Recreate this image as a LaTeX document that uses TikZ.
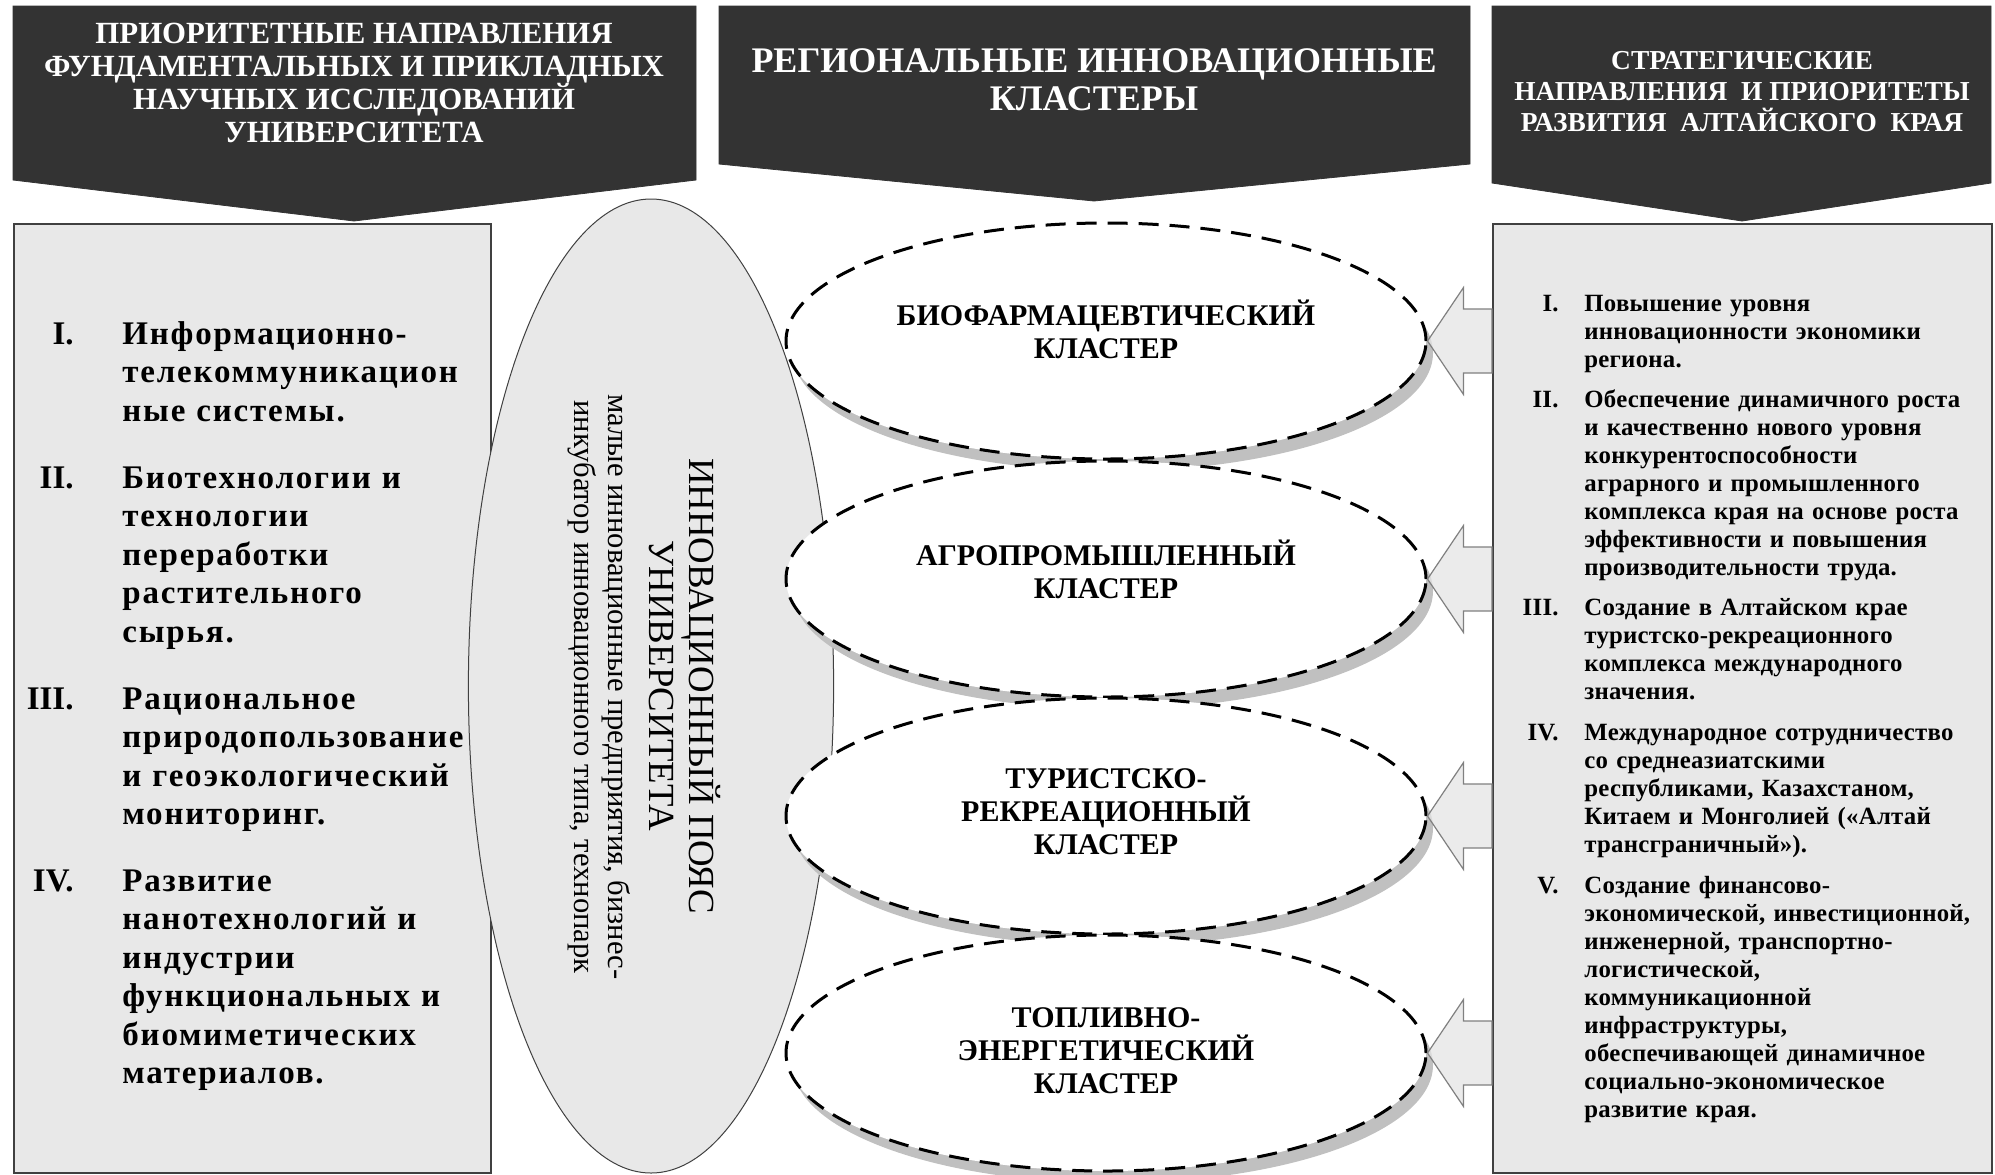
\documentclass[tikz,border=0pt]{standalone}
\usepackage{fontspec}
\setmainfont{Liberation Serif}
\usetikzlibrary{shapes.geometric}
\usetikzlibrary{shadows}
\usetikzlibrary{calc}

\definecolor{headgray}{HTML}{333333}
\definecolor{panelgray}{HTML}{E8E8E8}
\definecolor{edgegray}{HTML}{404040}
\definecolor{shadowgray}{HTML}{C0C0C0}
\definecolor{arrowgray}{HTML}{E4E4E4}

\begin{document}
\begin{tikzpicture}[
	x=0.5pt, y=-0.5pt,
	header/.style = {fill=headgray, draw=headgray},
	headtext/.style = {text=white, align=center, inner sep=0pt},
	panel/.style = {draw=edgegray, line width=1pt, fill=panelgray, anchor=north west, inner sep=0pt, minimum width=238.5pt, minimum height=474.5pt},
	numeral/.style = {anchor=base east, inner sep=0pt},
	listtext/.style = {anchor=base west, inner sep=0pt, align=left},
	bignum/.style = {font=\bfseries\fontsize{16.5}{19.25}\selectfont},
	bigitem/.style = {font=\bfseries\fontsize{16.5}{19.25}\selectfont\addfontfeature{LetterSpace=5.5}},
	smallitem/.style = {font=\bfseries\fontsize{12.4}{14}\selectfont\addfontfeature{LetterSpace=1}},
	belt/.style = {ellipse, draw=edgegray, line width=0.5pt, fill=panelgray, minimum width=182.6pt, minimum height=487pt, inner sep=0pt},
	cluster/.style = {ellipse, draw, fill=white, line width=1.5pt, dash pattern=on 10pt off 5.5pt, minimum width=320pt, minimum height=118pt, drop shadow={shadow xshift=3.5pt, shadow yshift=-6pt, fill=shadowgray, draw=none, opacity=1}},
	clustertext/.style = {align=center, inner sep=0pt, font=\bfseries\fontsize{15}{16.5}\selectfont},
	blockarrow/.style = {draw=gray, line width=0.6pt, fill=arrowgray, fill opacity=0.75, line join=miter}
	]
	\useasboundingbox (0,0) rectangle (1995,1174);

	\draw[header] (13,6) -- (696,6) -- (696,180) -- (354,221) -- (13,180) -- cycle;
	\draw[header] (719,6) -- (1470,6) -- (1470,164) -- (1094,201) -- (719,164) -- cycle;
	\draw[header] (1492,6) -- (1991,6) -- (1991,183) -- (1742,221) -- (1492,183) -- cycle;

	\node[headtext, font=\bfseries\fontsize{15.4}{16.5}\selectfont] (head1) at (354,83) {ПРИОРИТЕТНЫЕ НАПРАВЛЕНИЯ\\ФУНДАМЕНТАЛЬНЫХ И ПРИКЛАДНЫХ\\НАУЧНЫХ ИССЛЕДОВАНИЙ\\УНИВЕРСИТЕТА};
	\node[headtext, font=\bfseries\fontsize{18}{19}\selectfont] (head2) at (1094,80) {РЕГИОНАЛЬНЫЕ ИННОВАЦИОННЫЕ\\КЛАСТЕРЫ};
	\node[headtext, font=\bfseries\fontsize{13.7}{15.5}\selectfont] (head3) at (1742,92) {СТРАТЕГИЧЕСКИЕ\\НАПРАВЛЕНИЯ~ И ПРИОРИТЕТЫ\\РАЗВИТИЯ~ АЛТАЙСКОГО~ КРАЯ};

	\node[panel] (fields) at (13,223) {};
	\node[panel, minimum width=249.5pt] (strat) at (1492,223) {};

	\node[numeral, bignum] (f1n) at (74,344) {I.};
	\node[listtext, bigitem, text width=210pt] (f1) at (122,344) {Информационно-\\телекоммуникацион\\ные системы.};
	\node[numeral, bignum] (f2n) at (74,488) {II.};
	\node[listtext, bigitem, text width=210pt] (f2) at (122,488) {Биотехнологии и\\технологии\\переработки\\растительного\\сырья.};
	\node[numeral, bignum] (f3n) at (74,709) {III.};
	\node[listtext, bigitem, text width=210pt] (f3) at (122,709) {Рациональное\\природопользование\\и геоэкологический\\мониторинг.};
	\node[numeral, bignum] (f4n) at (74,891) {IV.};
	\node[listtext, bigitem, text width=210pt] (f4) at (122,891) {Развитие\\нанотехнологий и\\индустрии\\функциональных и\\биомиметических\\материалов.};

	\node[numeral, smallitem] (s1n) at (1559,311) {I.};
	\node[listtext, smallitem, text width=240pt] (s1) at (1584,311) {Повышение уровня\\инновационности экономики\\региона.};
	\node[numeral, smallitem] (s2n) at (1559,407) {II.};
	\node[listtext, smallitem, text width=240pt] (s2) at (1584,407) {Обеспечение динамичного роста\\и качественно нового уровня\\конкурентоспособности\\аграрного и промышленного\\комплекса края на основе роста\\эффективности и повышения\\производительности труда.};
	\node[numeral, smallitem] (s3n) at (1559,615) {III.};
	\node[listtext, smallitem, text width=240pt] (s3) at (1584,615) {Создание в Алтайском крае\\туристско-рекреационного\\комплекса международного\\значения.};
	\node[numeral, smallitem] (s4n) at (1559,740) {IV.};
	\node[listtext, smallitem, text width=240pt] (s4) at (1584,740) {Международное сотрудничество\\со среднеазиатскими\\республиками, Казахстаном,\\Китаем и Монголией («Алтай\\трансграничный»).};
	\node[numeral, smallitem] (s5n) at (1559,893) {V.};
	\node[listtext, smallitem, text width=240pt] (s5) at (1584,893) {Создание финансово-\\экономической, инвестиционной,\\инженерной, транспортно-\\логистической,\\коммуникационной\\инфраструктуры,\\обеспечивающей динамичное\\социально-экономическое\\развитие края.};

	\node[belt] (belt) at (651,686) {};
	\node[rotate=-90, align=center, font=\fontsize{18.4}{19.7}\selectfont] (beltname) at (685,686) {ИННОВАЦИОННЫЙ ПОЯС\\УНИВЕРСИТЕТА};
	\node[rotate=-90, align=center, font=\fontsize{15.3}{17}\selectfont] (beltsub) at (599,687) {малые инновационные предприятия, бизнес-\\инкубатор инновационного типа, технопарк};

	\node[cluster] (bio) at (1106,341) {};
	\node[cluster] (agro) at (1106,579) {};
	\node[cluster] (tour) at (1106,816) {};
	\node[cluster] (fuel) at (1106,1053) {};

	\node[clustertext] (biotext) at ($(bio.center)+(0,-12)$) {БИОФАРМАЦЕВТИЧЕСКИЙ\\КЛАСТЕР};
	\node[clustertext] (agrotext) at ($(agro.center)+(0,-10)$) {АГРОПРОМЫШЛЕННЫЙ\\КЛАСТЕР};
	\node[clustertext] (tourtext) at ($(tour.center)+(0,-4)$) {ТУРИСТСКО-\\РЕКРЕАЦИОННЫЙ\\КЛАСТЕР};
	\node[clustertext] (fueltext) at ($(fuel.center)+(0,-2)$) {ТОПЛИВНО-\\ЭНЕРГЕТИЧЕСКИЙ\\КЛАСТЕР};

	\foreach \c in {bio,agro,tour,fuel}{
		\draw[blockarrow] (\c.east) -- ++(36,-53.5) -- ++(0,21.5) coordinate (a) -- (a -| strat.west) -- ++(0,64) coordinate (b) -- (b -| a) -- ++(0,21.5) -- cycle;
	}

\end{tikzpicture}
\end{document}
